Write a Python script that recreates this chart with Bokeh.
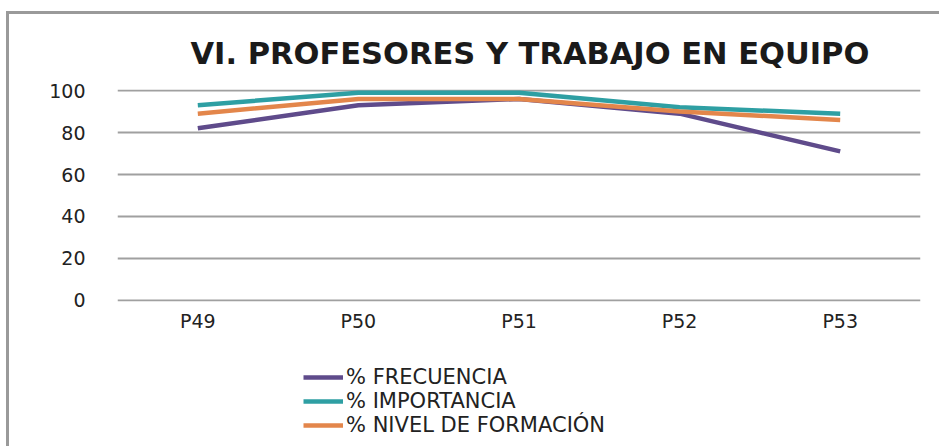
from bokeh.plotting import figure
from bokeh.layouts import column
from bokeh.models import Range1d, Legend, LegendItem, Title, FactorRange
from bokeh.embed import file_html
from bokeh.resources import INLINE

categories = ["P49", "P50", "P51", "P52", "P53"]
frecuencia = [82, 93, 96, 89, 71]
importancia = [93, 99, 99, 92, 89]
nivel_formacion = [89, 96, 96, 90, 86]
y_ticks = [0, 20, 40, 60, 80, 100]
title_text = "VI. PROFESORES Y TRABAJO EN EQUIPO"
series_names = ["% FRECUENCIA", "% IMPORTANCIA", "% NIVEL DE FORMACIÓN"]
colors = ["#5F4B8B", "#2E9FA3", "#E3864B"]
series = [frecuencia, importancia, nivel_formacion]

FONT = "DejaVu Sans"

p = figure(width=930, height=342, x_range=FactorRange(*categories),
           y_range=Range1d(-0.5, 100.5), output_backend="svg", toolbar_location=None,
           title=None, min_border_left=108, min_border_right=19,
           min_border_top=75, min_border_bottom=55)
p.outline_line_color = None

# axes
p.xaxis.axis_line_color = None
p.xaxis.major_tick_line_color = None
p.xaxis.minor_tick_line_color = None
p.xaxis.major_label_text_font = FONT
p.xaxis.major_label_text_font_size = "19px"
p.xaxis.major_label_text_color = "#222222"
p.xaxis.major_label_standoff = 2
p.yaxis.axis_line_color = None
p.yaxis.major_tick_line_color = None
p.yaxis.minor_tick_line_color = None
p.yaxis.ticker = y_ticks
p.yaxis.major_label_text_font = FONT
p.yaxis.major_label_text_font_size = "19px"
p.yaxis.major_label_text_color = "#222222"
p.yaxis.major_label_standoff = 26
p.xgrid.grid_line_color = None
p.ygrid.grid_line_color = "#a0a0a0"
p.ygrid.grid_line_width = 2
p.ygrid.ticker = y_ticks

for vals, c in zip(series, colors):
    p.line(categories, vals, line_color=c, line_width=4.5)

t = Title(text=title_text, text_font=FONT, text_font_style="bold",
          text_font_size="30.5px", align="left", offset=73, standoff=37,
          text_color="#1a1a1a")
p.add_layout(t, "above")

# legend strip (the series lie outside its y range, only the legend shows)
leg = figure(width=930, height=90, x_range=FactorRange(*categories),
             y_range=Range1d(0, 1), output_backend="svg", toolbar_location=None,
             title=None, min_border=0)
leg.axis.visible = False
leg.grid.visible = False
leg.outline_line_color = None
leg_renderers = [leg.line(categories, vals, line_color=c, line_width=4.5)
                 for vals, c in zip(series, colors)]
legend = Legend(items=[LegendItem(label=n, renderers=[r]) for n, r in zip(series_names, leg_renderers)],
                location=(186, 9), orientation="vertical",
                label_text_font=FONT, label_text_font_size="21px", label_text_color="#222222",
                glyph_width=40, glyph_height=24, label_height=24, label_standoff=3,
                spacing=0, padding=0, margin=0,
                background_fill_alpha=0, border_line_color=None)
leg.add_layout(legend, "center")

layout = column(p, leg, spacing=0)
layout.styles = {"border-top": "3px solid #9a9a9a", "border-left": "3px solid #9a9a9a",
                 "margin-left": "6px", "margin-top": "11px"}

open("out.html", "w").write(file_html(layout, INLINE))
